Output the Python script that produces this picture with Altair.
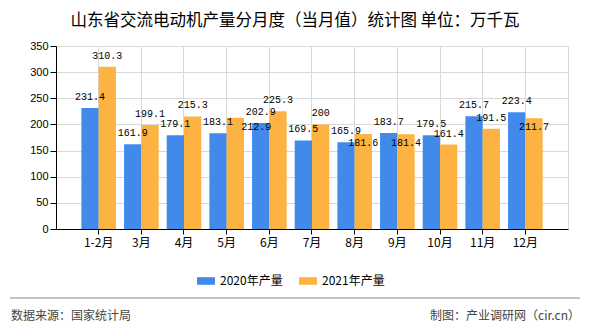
import altair as alt
import pandas as pd

months = ["1-2月", "3月", "4月", "5月", "6月", "7月", "8月", "9月", "10月", "11月", "12月"]
v2020 = [231.4, 161.9, 179.1, 183.1, 202.9, 169.5, 165.9, 183.7, 179.5, 215.7, 223.4]
v2021 = [310.3, 199.1, 215.3, 212.9, 225.3, 200, 181.6, 181.4, 161.4, 191.5, 211.7]
series = ["2020年产量", "2021年产量"]
colors = ["#418AEB", "#FCB341"]
y_ticks = [0, 50, 100, 150, 200, 250, 300, 350]

title_text = "山东省交流电动机产量分月度（当月值）统计图 单位：万千瓦"
source_text = "数据来源：国家统计局"
maker_text = "制图：产业调研网（cir.cn）"

n = len(months)


def label_place(s, i):
    # simple collision rule for value labels (computed from the values)
    if s == 0:
        return "above"
    if abs(v2021[i] - v2020[i]) < 16:
        return "inside"
    if i + 1 < n and abs(v2021[i] - v2020[i + 1]) < 12:
        return "shift"
    return "above"


rows = []
for i, m in enumerate(months):
    rows.append({"month": m, "series": series[0], "value": v2020[i], "place": label_place(0, i)})
    rows.append({"month": m, "series": series[1], "value": v2021[i], "place": label_place(1, i)})
df = pd.DataFrame(rows)

W, H = 512, 183

x_enc = alt.X("month:N", sort=months,
              scale=alt.Scale(paddingInner=0.19, paddingOuter=0.595),
              axis=alt.Axis(title=None, labelAngle=0, grid=True, gridColor="#d9d9d9",
                            domainColor="#000000", tickColor="#000000", tickSize=5,
                            labelFont="Noto Sans CJK SC", labelFontSize=12,
                            labelColor="#000000", labelPadding=3))
y_enc = alt.Y("value:Q", scale=alt.Scale(domain=[0, 350], nice=False),
              axis=alt.Axis(title=None, values=y_ticks, grid=True, gridColor="#d9d9d9",
                            domainColor="#000000", tickColor="#000000", tickSize=6,
                            labelFont="Liberation Sans", labelFontSize=11,
                            labelColor="#000000", labelPadding=2))
xoff = alt.XOffset("series:N", sort=series)

bars = alt.Chart(df).mark_bar().encode(
    x=x_enc, y=y_enc, xOffset=xoff,
    color=alt.Color("series:N", sort=series,
                    scale=alt.Scale(domain=series, range=colors),
                    legend=alt.Legend(title=None, orient="none", direction="horizontal",
                                      legendX=141, legendY=226,
                                      symbolType="M-1,-0.42L1,-0.42L1,0.42L-1,0.42Z",
                                      symbolSize=324, symbolStrokeWidth=0,
                                      labelFont="Noto Sans CJK SC", labelFontSize=12,
                                      labelColor="#000000", columnPadding=16,
                                      symbolOffset=0, labelOffset=5)),
)


def label_layer(place, dx, dy):
    return alt.Chart(df).transform_filter(alt.datum.place == place).mark_text(
        font="Liberation Mono", fontSize=10, color="#000000",
        baseline="alphabetic", dx=dx, dy=dy).encode(
        x=x_enc, y=y_enc, xOffset=xoff,
        text=alt.Text("value:Q"),
    )


labels_above = label_layer("above", 0, -8)
labels_inside = label_layer("inside", 0, 12)
labels_shift = label_layer("shift", 21, 12)

title = alt.Chart(pd.DataFrame({"t": [title_text]})).mark_text(
    font="Noto Sans CJK SC", fontSize=16.5, color="#000000", align="center", baseline="middle"
).encode(x=alt.value(239), y=alt.value(-25), text="t:N")

line = alt.Chart(pd.DataFrame({"a": [0]})).mark_rule(color="#888888", strokeWidth=1).encode(
    x=alt.value(-46), x2=alt.value(524), y=alt.value(252))

src = alt.Chart(pd.DataFrame({"t": [source_text]})).mark_text(
    font="Noto Sans CJK SC", fontSize=12, color="#444444", align="left", baseline="middle"
).encode(x=alt.value(-45), y=alt.value(270), text="t:N")

mk = alt.Chart(pd.DataFrame({"t": [maker_text]})).mark_text(
    font="Noto Sans CJK SC", fontSize=12, color="#444444", align="right", baseline="middle"
).encode(x=alt.value(524), y=alt.value(270), text="t:N")

chart = alt.layer(bars, labels_above, labels_inside, labels_shift, title, line, src, mk).properties(
    width=W, height=H, background="#ffffff",
    autosize=alt.AutoSizeParams(type="none"),
    padding={"left": 56, "top": 46, "right": 22, "bottom": 101},
).configure_view(stroke="#d9d9d9")

chart.save("out.html", embed_options={"renderer": "svg", "actions": False})
